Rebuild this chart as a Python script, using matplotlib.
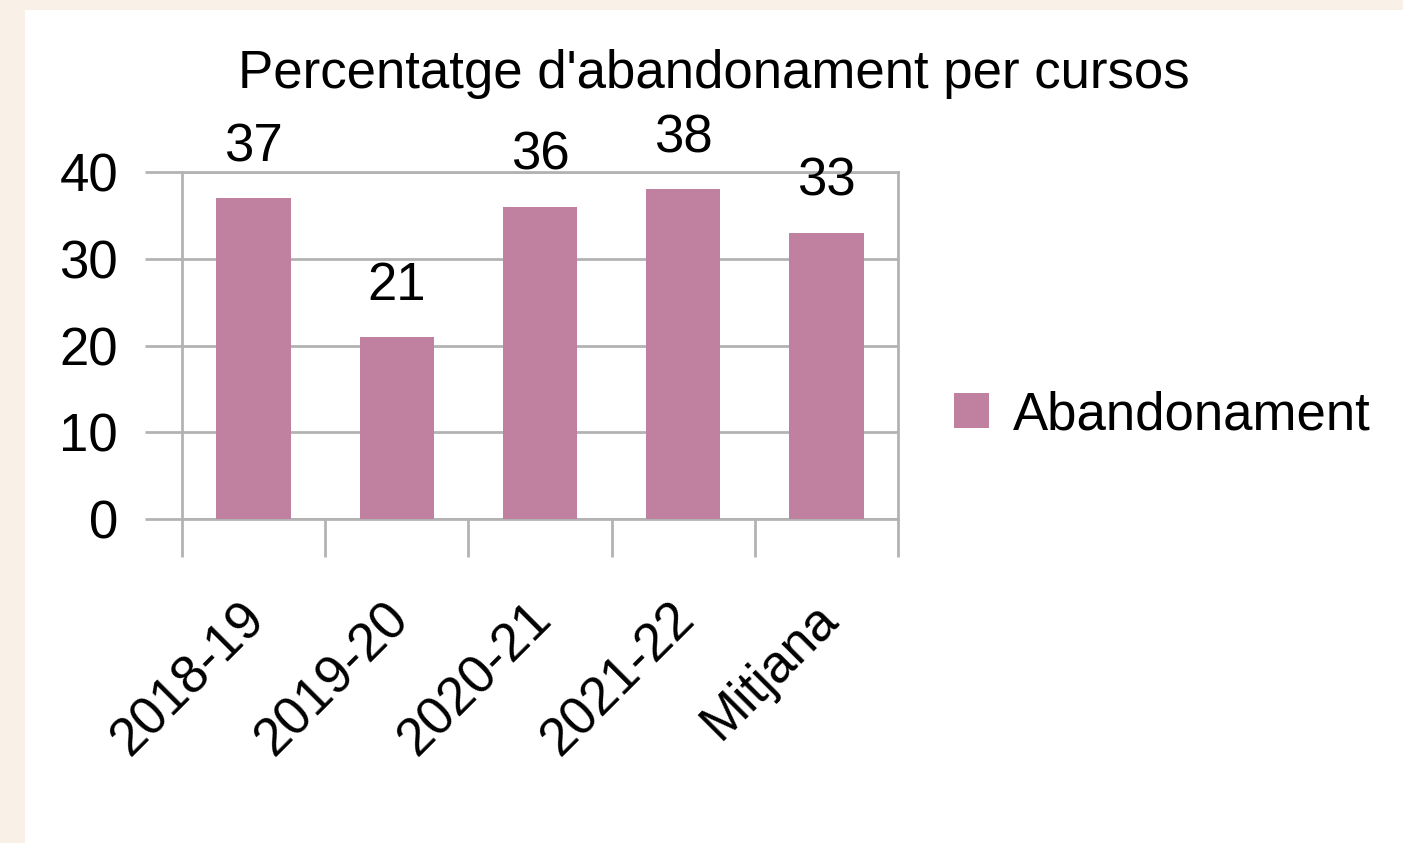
import matplotlib.pyplot as plt
from matplotlib.patches import Rectangle
import matplotlib.transforms as mtransforms

cursos = ["2018-19", "2019-20", "2020-21", "2021-22", "Mitjana"]
abandonament = [37, 21, 36, 38, 33]
etiquetes = ["37", "21", "36", "38", "33"]

plt.rcParams['font.family'] = ['Liberation Sans', 'DejaVu Sans']
gris = "#b3b3b3"
color_barra = "#c0809f"
mida = 38

fig = plt.figure(figsize=(14.03, 8.43), dpi=100)
fig.patch.set_facecolor("#f9f1e7")
# white chart panel behind everything
fig.patches.append(Rectangle((25 / 1403, 0), 1, 1 - 10 / 843, transform=fig.transFigure,
                             facecolor="white", edgecolor="none", zorder=-10))

ax = fig.add_axes([182 / 1403, 324 / 843, 716 / 1403, 347 / 843])
ax.set_facecolor("white")

x = list(range(len(cursos)))
ax.bar(x, abandonament, width=0.52, color=color_barra, zorder=3)

for xi, v, t in zip(x, abandonament, etiquetes):
    ax.annotate(t, (xi, v), xytext=(0, 26.5), textcoords="offset points",
                ha="center", va="baseline", fontsize=mida)

ax.set_xlim(-0.5, 4.5)
ax.set_ylim(0, 40)
ax.set_yticks([0, 10, 20, 30, 40])
ax.yaxis.grid(True, color=gris, linewidth=2, zorder=0)
ax.tick_params(axis="y", length=27, width=2, color=gris, pad=19, labelsize=mida)

ax.set_xticks(x)
ax.set_xticklabels(cursos, rotation=45, ha="right", va="top", rotation_mode="anchor")
ax.set_xticks([-0.5, 0.5, 1.5, 2.5, 3.5, 4.5], minor=True)
ax.tick_params(axis="x", which="major", length=0, pad=53.5, labelsize=mida)
ax.tick_params(axis="x", which="minor", length=27, width=2, color=gris)
offset = mtransforms.ScaledTranslation(-14 / 100, 0, fig.dpi_scale_trans)
for lab in ax.get_xticklabels():
    lab.set_transform(lab.get_transform() + offset)

for s in ax.spines.values():
    s.set_color(gris)
    s.set_linewidth(2)

fig.text(714 / 1403, 1 - 88 / 843, "Percentatge d'abandonament per cursos",
         ha="center", va="baseline", fontsize=mida)

ax.legend(["Abandonament"], loc="center left", bbox_to_anchor=(954 / 1403, 1 - 415 / 843),
          bbox_transform=fig.transFigure, frameon=False, borderpad=0, borderaxespad=0,
          handlelength=0.66, handleheight=0.66, handletextpad=0.45, fontsize=mida)

fig.savefig("out.png", dpi=100, facecolor=fig.get_facecolor())
